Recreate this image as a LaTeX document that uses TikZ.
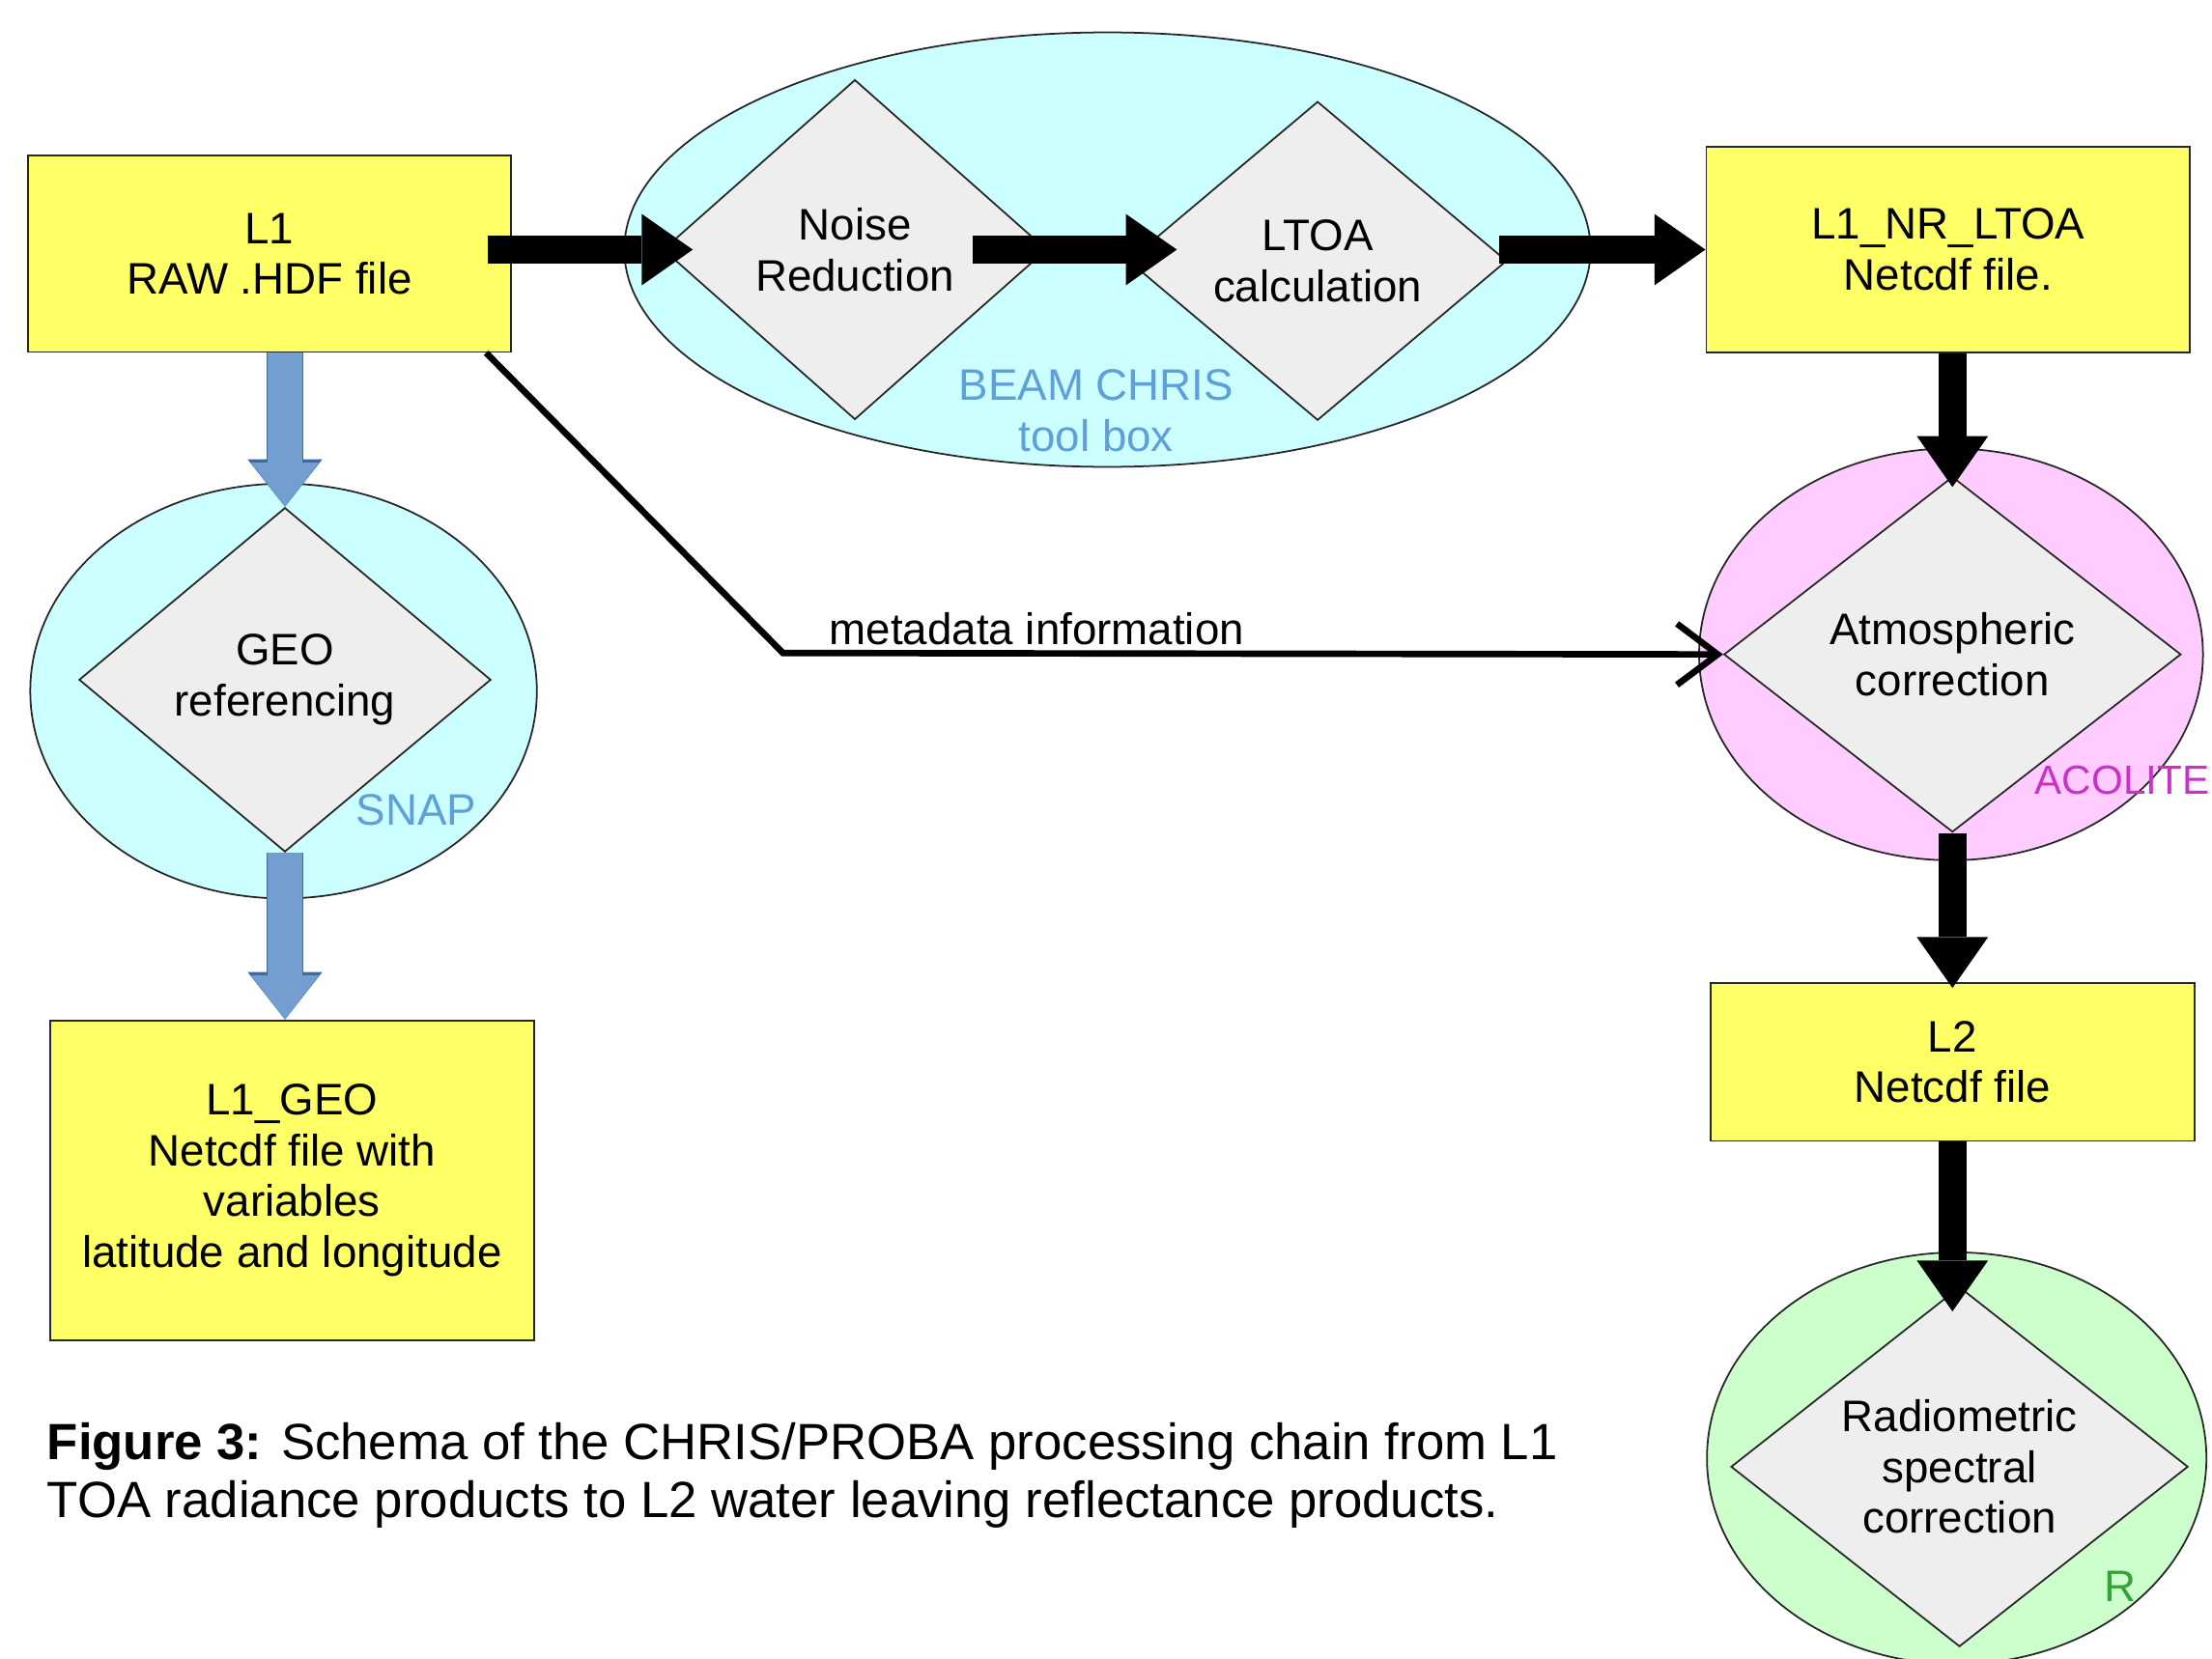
\documentclass[tikz,border=0pt]{standalone}
\usepackage{fontspec}
\setmainfont{Liberation Sans}
\usetikzlibrary{arrows.meta,positioning,shapes.geometric}

\definecolor{fileyellow}{RGB}{255,255,102}
\definecolor{stepgray}{RGB}{238,238,238}
\definecolor{toolcyan}{RGB}{204,255,255}
\definecolor{toolpink}{RGB}{255,204,255}
\definecolor{toolgreen}{RGB}{204,255,204}
\definecolor{geoblue}{RGB}{114,159,207}
\definecolor{geoedge}{RGB}{62,104,160}
\definecolor{namecyan}{RGB}{95,160,220}
\definecolor{namepink}{RGB}{200,50,200}
\definecolor{namegreen}{RGB}{50,165,50}

\begin{document}
\begin{tikzpicture}[
    x=0.014605cm, y=-0.014605cm,
    font=\fontsize{13}{15}\selectfont,
    file/.style={
		rectangle,
		draw=black!85,
		fill=fileyellow,
		line width=0.5pt,
		align=center
	},
	process/.style={
		diamond,
		aspect=1.3,
		draw=black!85,
		fill=stepgray,
		line width=0.5pt,
		inner sep=0pt,
		align=center
	},
	tool/.style={
		ellipse,
		draw=black!85,
		line width=0.5pt
	},
	toolname/.style={
		inner sep=0pt,
		align=center
	},
	flow/.style={
		line width=8.3pt,
		-{Triangle[length=15pt, width=21pt, line width=0pt]}
	},
	geoflow/.style={
		draw=geoblue,
		line width=10pt,
		-{Triangle[length=13pt, width=20pt, line width=0pt]},
		preaction={draw=geoedge, line width=11pt,
		  -{Triangle[length=14pt, width=22pt, line width=0pt]}}
	},
	metaflow/.style={
		line width=1.9pt,
		-{Straight Barb[length=12pt, width=18pt]}
	}
  ]
  \path [use as bounding box, fill=white] (0,0) rectangle (1568,1176);

  % tool boxes behind the steps
  \node [tool, fill=toolcyan, minimum width=284.6pt, minimum height=128pt] (beam) at (785,177) {};
  \node [tool, fill=toolcyan, minimum width=149.2pt, minimum height=122.2pt] (snap) at (201,490) {};
  \node [tool, fill=toolpink, minimum width=148.4pt, minimum height=121.3pt] (acolite) at (1383,464) {};
  \node [tool, fill=toolgreen, minimum width=147.1pt, minimum height=121.3pt] (rtool) at (1387,1034) {};

  \node [toolname, text=namecyan] (beamname) at (777,291) {BEAM CHRIS\\tool box};
  \node [toolname, text=namecyan] (snapname) at (295,574) {SNAP};
  \node [toolname, text=namepink, anchor=west, font=\fontsize{12}{14}\selectfont] (acolitename) at (1442,553) {ACOLITE};
  \node [toolname, text=namegreen] (rname) at (1503,1125) {R};

  % processing steps
  \node [process, minimum width=113pt, minimum height=100.1pt] (noise) at (606,177) {Noise\\Reduction};
  \node [process, minimum width=111.4pt, minimum height=93.9pt] (ltoa) at (934,185) {LTOA\\calculation};
  \node [process, minimum width=121.3pt, minimum height=101.4pt] (georef) at (202,482) {GEO\\referencing};
  \node [process, minimum width=134.6pt, minimum height=104.7pt] (atmos) at (1384,464) {Atmospheric\\correction};
  \node [process, minimum width=134.6pt, minimum height=106pt] (radio) at (1389,1040) {Radiometric\\spectral\\correction};

  % files
  \node [file, minimum width=142.1pt, minimum height=57.8pt] (l1) at (191,180) {L1\\RAW .HDF file};
  \node [file, minimum width=142.5pt, minimum height=60.7pt] (nrltoa) at (1381,177) {L1\_NR\_LTOA\\Netcdf file.};
  \node [file, minimum width=142.5pt, minimum height=46.5pt] (l2) at (1384,753) {L2\\Netcdf file};
  \node [file, minimum width=142.5pt, minimum height=94.3pt] (l1geo) at (207,837) {L1\_GEO\\Netcdf file with\\variables\\latitude and longitude};

  \coordinate (bend) at (555,463);

  % the chain
  \draw [flow] ([xshift=-7pt]l1.east |- noise.west) -- ([xshift=9pt]noise.west);
  \draw [flow] ([xshift=-22pt]noise.east) -- ([xshift=14.5pt]ltoa.west |- noise.east);
  \draw [flow] ([xshift=-2.5pt]ltoa.east |- nrltoa.west) -- (nrltoa.west);
  \draw [flow] (atmos.north |- nrltoa.south) -- ([yshift=-3.3pt]atmos.north);
  \draw [flow] (atmos.south) -- ([yshift=-1.7pt]atmos.south |- l2.north);
  \draw [flow] (atmos.south |- l2.south) -- ([yshift=-7.5pt]atmos.south |- radio.north);

  \draw [geoflow] (georef.north |- l1.south) -- (georef.north);
  \draw [geoflow] (georef.south) -- (georef.south |- l1geo.north);

  \draw [metaflow] ([xshift=-7.5pt]l1.south east) -- (bend)
    -- node [pos=0.27, above, inner sep=1.5pt] (metaname) {metadata information} (atmos.west);

  \node [anchor=west, align=left, inner sep=0pt, font=\fontsize{15}{17}\selectfont] (caption) at (33,1046)
  {\textbf{Figure 3:} Schema of the CHRIS/PROBA processing chain from L1\\TOA radiance products to L2 water leaving reflectance products.};

\end{tikzpicture}
\end{document}
